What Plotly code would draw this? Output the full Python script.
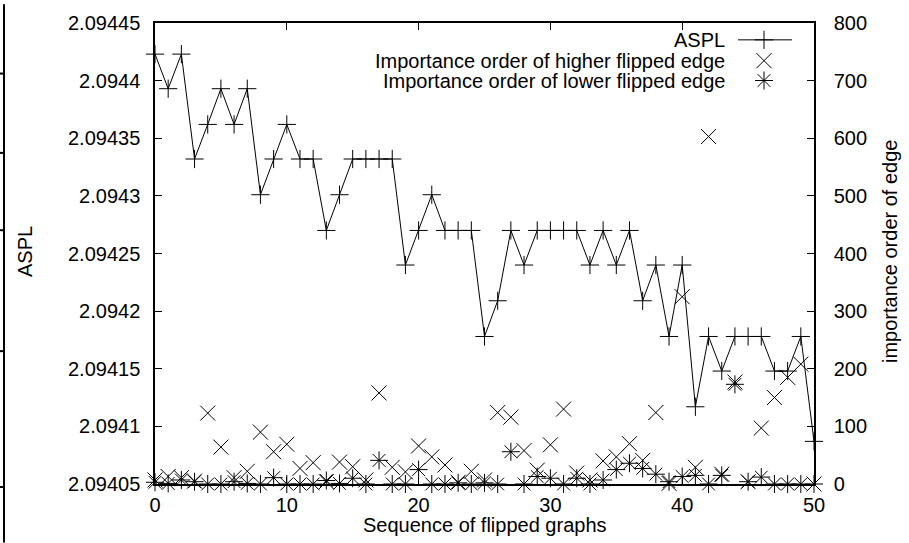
import plotly.graph_objects as go

# ---------------- data ----------------
seq = list(range(51))

aspl = [2.094423, 2.094393, 2.094423, 2.094332, 2.094362, 2.094393, 2.094362, 2.094393, 2.094301, 2.094332,
        2.094362, 2.094332, 2.094332, 2.094270, 2.094301, 2.094332, 2.094332, 2.094332, 2.094332, 2.094240,
        2.094270, 2.094301, 2.094270, 2.094270, 2.094270, 2.094178, 2.094209, 2.094270, 2.094240, 2.094270,
        2.094270, 2.094270, 2.094270, 2.094240, 2.094270, 2.094240, 2.094270, 2.094209, 2.094240, 2.094178,
        2.094240, 2.094117, 2.094178, 2.094148, 2.094178, 2.094178, 2.094178, 2.094148, 2.094148, 2.094178,
        2.094087]

higher = [7, 13, 11, 5, 123, 64, 11, 22, 90, 56,
          69, 27, 37, 4, 38, 30, 7, 158, 29, 21,
          66, 47, 33, 3, 22, 7, 124, 116, 58, 24,
          68, 130, 19, 7, 40, 47, 70, 41, 124, 1,
          325, 29, 603, 17, 177, 4, 97, 150, 185, 208,
          0]

lower = [3, 1, 7, 4, 0, 0, 4, 1, 0, 11,
         0, 0, 0, 6, 1, 10, 0, 41, 0, 0,
         25, 0, 0, 2, 0, 2, 0, 56, 0, 13,
         10, 0, 10, 0, 7, 25, 36, 27, 17, 4,
         13, 15, 0, 15, 173, 4, 12, 0, 0, 0,
         0]

x_ticks = [0, 10, 20, 30, 40, 50]
left_ticks = [2.09405, 2.0941, 2.09415, 2.0942, 2.09425, 2.0943, 2.09435, 2.0944, 2.09445]
left_labels = ["2.09405", "2.0941", "2.09415", "2.0942", "2.09425", "2.0943", "2.09435", "2.0944", "2.09445"]
right_ticks = [0, 100, 200, 300, 400, 500, 600, 700, 800]

series_names = ["ASPL", "Importance order of higher flipped edge", "Importance order of lower flipped edge"]

# ---------------- layout constants ----------------
W, H = 909, 543
L, R, T, B = 155, 95, 19, 59
PW, PH = W - L - R, H - T - B
FONT = "Liberation Sans, Arial, Helvetica, sans-serif"
FS = 20
SZ_PLUS, SZ_X, SZ_AST = 13, 15, 15


def px_x(px):
    return (px - L) / PW


def px_y(py):
    return (H - B - py) / PH


fig = go.Figure()

fig.add_trace(go.Scatter(
    x=seq, y=aspl, mode="lines+markers", name=series_names[0],
    line=dict(color="black", width=1),
    marker=dict(symbol="cross-thin-open", size=SZ_PLUS, color="black", line=dict(color="black", width=1)),
    cliponaxis=False, showlegend=False, xaxis="x", yaxis="y"))

fig.add_trace(go.Scatter(
    x=seq, y=higher, mode="markers", name=series_names[1],
    marker=dict(symbol="x-thin-open", size=SZ_X, color="black", line=dict(color="black", width=1)),
    cliponaxis=False, showlegend=False, xaxis="x", yaxis="y2"))

fig.add_trace(go.Scatter(
    x=seq, y=lower, mode="markers", name=series_names[2],
    marker=dict(symbol="asterisk-open", size=SZ_AST, color="black", line=dict(color="black", width=1)),
    cliponaxis=False, showlegend=False, xaxis="x", yaxis="y2"))

# ---- legend (gnuplot style: text right-justified, sample on the right) ----
key_text_x = px_x(727)
key_sample_x0, key_sample_x1, key_mark_x = px_x(738), px_x(792), px_x(764)
key_rows = [px_y(36), px_y(57), px_y(77)]

fig.add_trace(go.Scatter(
    x=[key_sample_x0, key_mark_x, key_sample_x1], y=[key_rows[0]] * 3, mode="lines",
    line=dict(color="black", width=1), showlegend=False, hoverinfo="skip",
    xaxis="x3", yaxis="y3", cliponaxis=False))
for sym, sz, yy in [("cross-thin-open", SZ_PLUS, key_rows[0]),
                    ("x-thin-open", SZ_X, key_rows[1]),
                    ("asterisk-open", SZ_AST, key_rows[2])]:
    fig.add_trace(go.Scatter(
        x=[key_mark_x], y=[yy], mode="markers",
        marker=dict(symbol=sym, size=sz, color="black", line=dict(color="black", width=1)),
        showlegend=False, hoverinfo="skip", xaxis="x3", yaxis="y3", cliponaxis=False))

annotations = []
for name, yy in zip(series_names, key_rows):
    annotations.append(dict(x=key_text_x, y=yy, xref="paper", yref="paper", text=name,
                            showarrow=False, xanchor="right", yanchor="middle",
                            font=dict(family=FONT, size=FS, color="black")))

# axis titles
annotations.append(dict(x=px_x(25), y=px_y(250), xref="paper", yref="paper", text="ASPL",
                        textangle=-90, showarrow=False, xanchor="center", yanchor="middle",
                        font=dict(family=FONT, size=FS, color="black")))
annotations.append(dict(x=px_x(890), y=px_y(250), xref="paper", yref="paper",
                        text="importance order of edge", textangle=-90, showarrow=False,
                        xanchor="center", yanchor="middle",
                        font=dict(family=FONT, size=FS, color="black")))
annotations.append(dict(x=0.5, y=px_y(525), xref="paper", yref="paper",
                        text="Sequence of flipped graphs", showarrow=False,
                        xanchor="center", yanchor="middle",
                        font=dict(family=FONT, size=FS, color="black")))

# page-border artifact on the far left
shapes = [dict(type="line", xref="paper", yref="paper", x0=px_x(4), x1=px_x(4),
               y0=px_y(0), y1=px_y(H), line=dict(color="black", width=2))]
for py in [70, 150, 228, 350, 487]:
    shapes.append(dict(type="line", xref="paper", yref="paper", x0=px_x(0), x1=px_x(4),
                       y0=px_y(py), y1=px_y(py), line=dict(color="black", width=2)))

axis_common = dict(showline=True, linecolor="black", linewidth=1.5, ticks="inside",
                   ticklen=7, tickcolor="black", tickwidth=1, showgrid=False, zeroline=False,
                   tickfont=dict(family=FONT, size=FS, color="black"))

fig.update_layout(
    width=W, height=H,
    margin=dict(l=L, r=R, t=T, b=B, pad=0),
    paper_bgcolor="white", plot_bgcolor="white",
    showlegend=False,
    xaxis=dict(range=[0, 50], tickvals=x_ticks, mirror="ticks", ticklabelstandoff=2, **axis_common),
    yaxis=dict(range=[2.09405, 2.09445], tickvals=left_ticks, ticktext=left_labels,
               mirror=True, ticklabelstandoff=9, **axis_common),
    yaxis2=dict(range=[0, 800], tickvals=right_ticks, overlaying="y", side="right",
                anchor="x", ticklabelstandoff=14, **axis_common),
    xaxis3=dict(range=[0, 1], overlaying="x", anchor="y3", visible=False),
    yaxis3=dict(range=[0, 1], overlaying="y", anchor="x3", visible=False),
    annotations=annotations,
    shapes=shapes,
    font=dict(family=FONT, size=FS, color="black"),
)

fig.write_html("out.html", config={"displayModeBar": False},
               post_script="document.body.style.margin='0';document.body.style.overflow='hidden';")
